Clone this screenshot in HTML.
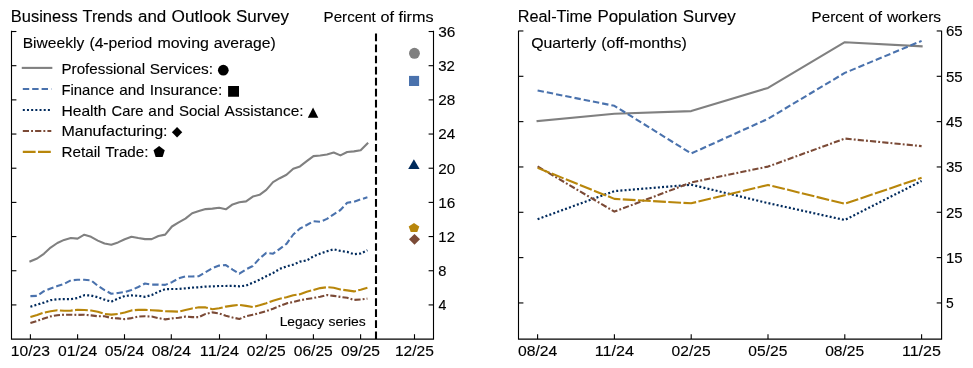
<!DOCTYPE html>
<html><head><meta charset="utf-8"><title>Business Trends and Real-Time Population Survey</title>
<style>html,body{margin:0;padding:0;background:#fff;width:973px;height:368px;overflow:hidden} svg{will-change:transform}</style></head>
<body>
<svg width="973" height="368" viewBox="0 0 973 368" style="display:block" font-family='"Liberation Sans", sans-serif' fill="#000">
<rect width="973" height="368" fill="#fff"/>
<text transform="translate(10.75,21.70) scale(1.0317,1)" font-size="16.0" stroke="#000" stroke-width="0.12">Business</text>
<text transform="translate(82.57,21.70) scale(1.0163,1)" font-size="16.0" stroke="#000" stroke-width="0.12">Trends</text>
<text transform="translate(137.97,21.70) scale(1.0582,1)" font-size="16.0" stroke="#000" stroke-width="0.12">and</text>
<text transform="translate(171.57,21.70) scale(1.0778,1)" font-size="16.0" stroke="#000" stroke-width="0.12">Outlook</text>
<text transform="translate(236.04,21.70) scale(1.0625,1)" font-size="16.0" stroke="#000" stroke-width="0.12">Survey</text>
<text transform="translate(323.56,21.65) scale(1.0428,1)" font-size="14.55" stroke="#000" stroke-width="0.12">Percent</text>
<text transform="translate(380.60,21.65) scale(1.1156,1)" font-size="14.55" stroke="#000" stroke-width="0.12">of</text>
<text transform="translate(398.54,21.65) scale(1.1116,1)" font-size="14.55" stroke="#000" stroke-width="0.12">firms</text>
<text transform="translate(517.77,21.80) scale(1.0164,1)" font-size="16.0" stroke="#000" stroke-width="0.12">Real-Time</text>
<text transform="translate(597.40,21.80) scale(1.0594,1)" font-size="16.0" stroke="#000" stroke-width="0.12">Population</text>
<text transform="translate(682.83,21.80) scale(1.0647,1)" font-size="16.0" stroke="#000" stroke-width="0.12">Survey</text>
<text transform="translate(811.61,21.70) scale(1.0421,1)" font-size="14.55" stroke="#000" stroke-width="0.12">Percent</text>
<text transform="translate(868.61,21.70) scale(1.1149,1)" font-size="14.55" stroke="#000" stroke-width="0.12">of</text>
<text transform="translate(886.93,21.70) scale(1.0635,1)" font-size="14.55" stroke="#000" stroke-width="0.12">workers</text>
<text transform="translate(22.73,47.80) scale(1.0708,1)" font-size="14.55" stroke="#000" stroke-width="0.12">Biweekly</text>
<text transform="translate(89.41,47.80) scale(1.0807,1)" font-size="14.55" stroke="#000" stroke-width="0.12">(4-period</text>
<text transform="translate(157.44,47.80) scale(1.0970,1)" font-size="14.55" stroke="#000" stroke-width="0.12">moving</text>
<text transform="translate(213.75,47.80) scale(1.0803,1)" font-size="14.55" stroke="#000" stroke-width="0.12">average)</text>
<text transform="translate(531.14,47.70) scale(1.0899,1)" font-size="14.55" stroke="#000" stroke-width="0.12">Quarterly</text>
<text transform="translate(601.29,47.70) scale(1.0936,1)" font-size="14.55" stroke="#000" stroke-width="0.12">(off-months)</text>
<text transform="translate(61.46,74.00) scale(1.0450,1)" font-size="14.55" stroke="#000" stroke-width="0.12">Professional</text>
<text transform="translate(149.76,74.00) scale(1.0590,1)" font-size="14.55" stroke="#000" stroke-width="0.12">Services:</text>
<text transform="translate(61.49,94.90) scale(1.0194,1)" font-size="14.55" stroke="#000" stroke-width="0.12">Finance</text>
<text transform="translate(119.16,94.90) scale(1.0542,1)" font-size="14.55" stroke="#000" stroke-width="0.12">and</text>
<text transform="translate(149.68,94.90) scale(1.0689,1)" font-size="14.55" stroke="#000" stroke-width="0.12">Insurance:</text>
<text transform="translate(61.43,115.70) scale(1.0740,1)" font-size="14.55" stroke="#000" stroke-width="0.12">Health</text>
<text transform="translate(111.57,115.70) scale(1.0123,1)" font-size="14.55" stroke="#000" stroke-width="0.12">Care</text>
<text transform="translate(148.37,115.70) scale(1.0550,1)" font-size="14.55" stroke="#000" stroke-width="0.12">and</text>
<text transform="translate(178.91,115.70) scale(1.0311,1)" font-size="14.55" stroke="#000" stroke-width="0.12">Social</text>
<text transform="translate(224.59,115.70) scale(1.0618,1)" font-size="14.55" stroke="#000" stroke-width="0.12">Assistance:</text>
<text transform="translate(61.39,136.40) scale(1.1038,1)" font-size="14.55" stroke="#000" stroke-width="0.12">Manufacturing:</text>
<text transform="translate(61.45,157.10) scale(1.0513,1)" font-size="14.55" stroke="#000" stroke-width="0.12">Retail</text>
<text transform="translate(105.14,157.10) scale(1.0437,1)" font-size="14.55" stroke="#000" stroke-width="0.12">Trade:</text>
<text transform="translate(279.64,325.90) scale(1.0578,1)" font-size="13.05" stroke="#000" stroke-width="0.12">Legacy</text>
<text transform="translate(328.59,325.90) scale(1.0688,1)" font-size="13.05" stroke="#000" stroke-width="0.12">series</text>
<text transform="translate(10.78,356.00) scale(1.0773,1)" font-size="14.55" stroke="#000" stroke-width="0.12">10/23</text>
<text transform="translate(57.94,356.00) scale(1.0814,1)" font-size="14.55" stroke="#000" stroke-width="0.12">01/24</text>
<text transform="translate(104.84,356.00) scale(1.0814,1)" font-size="14.55" stroke="#000" stroke-width="0.12">05/24</text>
<text transform="translate(151.64,356.00) scale(1.0814,1)" font-size="14.55" stroke="#000" stroke-width="0.12">08/24</text>
<text transform="translate(199.84,356.00) scale(1.1123,1)" font-size="14.55" stroke="#000" stroke-width="0.12">11/24</text>
<text transform="translate(246.74,356.00) scale(1.0738,1)" font-size="14.55" stroke="#000" stroke-width="0.12">02/25</text>
<text transform="translate(293.74,356.00) scale(1.0738,1)" font-size="14.55" stroke="#000" stroke-width="0.12">06/25</text>
<text transform="translate(340.94,356.00) scale(1.0738,1)" font-size="14.55" stroke="#000" stroke-width="0.12">09/25</text>
<text transform="translate(394.88,356.00) scale(1.0728,1)" font-size="14.55" stroke="#000" stroke-width="0.12">12/25</text>
<text transform="translate(517.94,356.00) scale(1.0814,1)" font-size="14.55" stroke="#000" stroke-width="0.12">08/24</text>
<text transform="translate(594.74,356.00) scale(1.1123,1)" font-size="14.55" stroke="#000" stroke-width="0.12">11/24</text>
<text transform="translate(671.54,356.00) scale(1.0738,1)" font-size="14.55" stroke="#000" stroke-width="0.12">02/25</text>
<text transform="translate(748.34,356.00) scale(1.0738,1)" font-size="14.55" stroke="#000" stroke-width="0.12">05/25</text>
<text transform="translate(825.14,356.00) scale(1.0738,1)" font-size="14.55" stroke="#000" stroke-width="0.12">08/25</text>
<text transform="translate(901.95,356.00) scale(1.1046,1)" font-size="14.55" stroke="#000" stroke-width="0.12">11/25</text>
<text transform="translate(438.25,36.82) scale(1.0596,1)" font-size="14.55" stroke="#000" stroke-width="0.12">36</text>
<text transform="translate(438.27,70.99) scale(1.0291,1)" font-size="14.55" stroke="#000" stroke-width="0.12">32</text>
<text transform="translate(438.26,105.17) scale(1.0532,1)" font-size="14.55" stroke="#000" stroke-width="0.12">28</text>
<text transform="translate(438.26,139.34) scale(1.0450,1)" font-size="14.55" stroke="#000" stroke-width="0.12">24</text>
<text transform="translate(438.26,173.52) scale(1.0493,1)" font-size="14.55" stroke="#000" stroke-width="0.12">20</text>
<text transform="translate(438.33,207.70) scale(1.0546,1)" font-size="14.55" stroke="#000" stroke-width="0.12">16</text>
<text transform="translate(438.36,241.87) scale(1.0232,1)" font-size="14.55" stroke="#000" stroke-width="0.12">12</text>
<text transform="translate(438.24,276.05) scale(1.0053,1)" font-size="14.55" stroke="#000" stroke-width="0.12">8</text>
<text transform="translate(438.38,310.22) scale(0.9732,1)" font-size="14.55" stroke="#000" stroke-width="0.12">4</text>
<text transform="translate(945.93,36.27) scale(1.0331,1)" font-size="14.55" stroke="#000" stroke-width="0.12">65</text>
<text transform="translate(945.94,81.60) scale(1.0327,1)" font-size="14.55" stroke="#000" stroke-width="0.12">55</text>
<text transform="translate(946.07,126.93) scale(1.0242,1)" font-size="14.55" stroke="#000" stroke-width="0.12">45</text>
<text transform="translate(945.97,172.26) scale(1.0307,1)" font-size="14.55" stroke="#000" stroke-width="0.12">35</text>
<text transform="translate(945.97,217.59) scale(1.0307,1)" font-size="14.55" stroke="#000" stroke-width="0.12">25</text>
<text transform="translate(946.06,262.92) scale(1.0249,1)" font-size="14.55" stroke="#000" stroke-width="0.12">15</text>
<text transform="translate(946.00,308.25) scale(0.9538,1)" font-size="14.55" stroke="#000" stroke-width="0.12">5</text>
<path d="M11.5,31.4 V339.1 H433.5 V31.4" fill="none" stroke="#000" stroke-width="1.11" stroke-linejoin="miter" stroke-linecap="square"/>
<path d="M518.5,31.4 V339.1 H941.6 V31.4" fill="none" stroke="#000" stroke-width="1.11" stroke-linejoin="miter" stroke-linecap="square"/>
<line x1="11.50" y1="31.52" x2="16.40" y2="31.52" stroke="#000" stroke-width="1.11" />
<line x1="428.60" y1="31.52" x2="433.50" y2="31.52" stroke="#000" stroke-width="1.11" />
<line x1="11.50" y1="65.69" x2="16.40" y2="65.69" stroke="#000" stroke-width="1.11" />
<line x1="428.60" y1="65.69" x2="433.50" y2="65.69" stroke="#000" stroke-width="1.11" />
<line x1="11.50" y1="99.87" x2="16.40" y2="99.87" stroke="#000" stroke-width="1.11" />
<line x1="428.60" y1="99.87" x2="433.50" y2="99.87" stroke="#000" stroke-width="1.11" />
<line x1="11.50" y1="134.04" x2="16.40" y2="134.04" stroke="#000" stroke-width="1.11" />
<line x1="428.60" y1="134.04" x2="433.50" y2="134.04" stroke="#000" stroke-width="1.11" />
<line x1="11.50" y1="168.22" x2="16.40" y2="168.22" stroke="#000" stroke-width="1.11" />
<line x1="428.60" y1="168.22" x2="433.50" y2="168.22" stroke="#000" stroke-width="1.11" />
<line x1="11.50" y1="202.40" x2="16.40" y2="202.40" stroke="#000" stroke-width="1.11" />
<line x1="428.60" y1="202.40" x2="433.50" y2="202.40" stroke="#000" stroke-width="1.11" />
<line x1="11.50" y1="236.57" x2="16.40" y2="236.57" stroke="#000" stroke-width="1.11" />
<line x1="428.60" y1="236.57" x2="433.50" y2="236.57" stroke="#000" stroke-width="1.11" />
<line x1="11.50" y1="270.75" x2="16.40" y2="270.75" stroke="#000" stroke-width="1.11" />
<line x1="428.60" y1="270.75" x2="433.50" y2="270.75" stroke="#000" stroke-width="1.11" />
<line x1="11.50" y1="304.92" x2="16.40" y2="304.92" stroke="#000" stroke-width="1.11" />
<line x1="428.60" y1="304.92" x2="433.50" y2="304.92" stroke="#000" stroke-width="1.11" />
<line x1="518.50" y1="30.97" x2="523.40" y2="30.97" stroke="#000" stroke-width="1.11" />
<line x1="936.70" y1="30.97" x2="941.60" y2="30.97" stroke="#000" stroke-width="1.11" />
<line x1="518.50" y1="76.30" x2="523.40" y2="76.30" stroke="#000" stroke-width="1.11" />
<line x1="936.70" y1="76.30" x2="941.60" y2="76.30" stroke="#000" stroke-width="1.11" />
<line x1="518.50" y1="121.63" x2="523.40" y2="121.63" stroke="#000" stroke-width="1.11" />
<line x1="936.70" y1="121.63" x2="941.60" y2="121.63" stroke="#000" stroke-width="1.11" />
<line x1="518.50" y1="166.96" x2="523.40" y2="166.96" stroke="#000" stroke-width="1.11" />
<line x1="936.70" y1="166.96" x2="941.60" y2="166.96" stroke="#000" stroke-width="1.11" />
<line x1="518.50" y1="212.29" x2="523.40" y2="212.29" stroke="#000" stroke-width="1.11" />
<line x1="936.70" y1="212.29" x2="941.60" y2="212.29" stroke="#000" stroke-width="1.11" />
<line x1="518.50" y1="257.62" x2="523.40" y2="257.62" stroke="#000" stroke-width="1.11" />
<line x1="936.70" y1="257.62" x2="941.60" y2="257.62" stroke="#000" stroke-width="1.11" />
<line x1="518.50" y1="302.95" x2="523.40" y2="302.95" stroke="#000" stroke-width="1.11" />
<line x1="936.70" y1="302.95" x2="941.60" y2="302.95" stroke="#000" stroke-width="1.11" />
<line x1="30.40" y1="339.10" x2="30.40" y2="334.20" stroke="#000" stroke-width="1.11" />
<line x1="77.60" y1="339.10" x2="77.60" y2="334.20" stroke="#000" stroke-width="1.11" />
<line x1="124.50" y1="339.10" x2="124.50" y2="334.20" stroke="#000" stroke-width="1.11" />
<line x1="171.30" y1="339.10" x2="171.30" y2="334.20" stroke="#000" stroke-width="1.11" />
<line x1="219.50" y1="339.10" x2="219.50" y2="334.20" stroke="#000" stroke-width="1.11" />
<line x1="266.40" y1="339.10" x2="266.40" y2="334.20" stroke="#000" stroke-width="1.11" />
<line x1="313.40" y1="339.10" x2="313.40" y2="334.20" stroke="#000" stroke-width="1.11" />
<line x1="360.60" y1="339.10" x2="360.60" y2="334.20" stroke="#000" stroke-width="1.11" />
<line x1="414.50" y1="339.10" x2="414.50" y2="334.20" stroke="#000" stroke-width="1.11" />
<line x1="537.60" y1="339.10" x2="537.60" y2="334.20" stroke="#000" stroke-width="1.11" />
<line x1="614.40" y1="339.10" x2="614.40" y2="334.20" stroke="#000" stroke-width="1.11" />
<line x1="691.20" y1="339.10" x2="691.20" y2="334.20" stroke="#000" stroke-width="1.11" />
<line x1="768.00" y1="339.10" x2="768.00" y2="334.20" stroke="#000" stroke-width="1.11" />
<line x1="844.80" y1="339.10" x2="844.80" y2="334.20" stroke="#000" stroke-width="1.11" />
<line x1="921.60" y1="339.10" x2="921.60" y2="334.20" stroke="#000" stroke-width="1.11" />
<line x1="376" y1="339.1" x2="376" y2="31.4" stroke="#000" stroke-width="2.08" stroke-dasharray="7.7 3.33"/>
<polyline points="30.40,261.30 37.14,258.50 43.88,253.80 50.62,247.60 57.36,243.00 64.10,239.90 70.84,238.00 77.58,238.60 84.32,234.70 91.06,236.80 97.80,240.60 104.54,243.50 111.28,244.80 118.02,242.40 124.76,239.20 131.50,236.70 138.24,238.00 144.98,239.10 151.72,239.10 158.46,236.00 165.20,234.60 171.94,226.50 178.68,222.40 185.42,218.60 192.16,213.20 198.90,211.10 205.64,209.10 212.38,208.60 219.12,207.80 225.86,209.30 232.60,204.40 239.34,202.30 246.08,201.40 252.82,196.60 259.56,194.80 266.30,189.90 273.04,182.10 279.78,178.20 286.52,174.80 293.26,168.80 300.00,166.40 306.74,161.20 313.48,156.10 320.22,155.50 326.96,154.50 333.70,152.50 340.44,155.40 347.18,152.00 353.92,151.40 360.66,150.30 367.40,143.40" fill="none" stroke="#808080" stroke-width="2.1" stroke-linejoin="round" stroke-linecap="square"/>
<polyline points="30.40,296.10 37.14,295.90 43.88,291.20 50.62,288.50 57.36,286.10 64.10,283.90 70.84,280.30 77.58,279.80 84.32,279.80 91.06,280.30 97.80,285.80 104.54,290.10 111.28,293.70 118.02,293.00 124.76,292.00 131.50,290.00 138.24,287.00 144.98,283.50 151.72,284.60 158.46,284.60 165.20,284.90 171.94,282.20 178.68,278.40 185.42,276.50 192.16,276.50 198.90,276.10 205.64,272.10 212.38,268.20 219.12,265.60 225.86,265.10 232.60,269.60 239.34,273.70 246.08,269.30 252.82,266.00 259.56,258.50 266.30,252.90 273.04,253.70 279.78,248.80 286.52,243.80 293.26,234.50 300.00,228.50 306.74,225.00 313.48,221.20 320.22,221.80 326.96,218.90 333.70,214.30 340.44,210.00 347.18,202.80 353.92,201.70 360.66,199.40 367.40,197.20" fill="none" stroke="#4a72ad" stroke-width="2.1" stroke-linejoin="round" stroke-linecap="butt" stroke-dasharray="6.4 3.0"/>
<polyline points="30.40,306.70 37.14,304.60 43.88,302.60 50.62,300.20 57.36,299.30 64.10,299.10 70.84,299.10 77.58,298.00 84.32,295.20 91.06,295.50 97.80,297.20 104.54,299.60 111.28,301.70 118.02,298.60 124.76,295.90 131.50,295.40 138.24,295.80 144.98,296.80 151.72,295.10 158.46,291.70 165.20,289.20 171.94,289.00 178.68,289.00 185.42,288.30 192.16,287.60 198.90,287.30 205.64,286.60 212.38,286.40 219.12,286.00 225.86,286.00 232.60,285.80 239.34,286.30 246.08,285.60 252.82,282.70 259.56,279.80 266.30,276.20 273.04,273.00 279.78,268.90 286.52,266.40 293.26,264.60 300.00,261.60 306.74,260.50 313.48,256.30 320.22,253.60 326.96,251.30 333.70,249.30 340.44,250.90 347.18,251.90 353.92,254.20 360.66,253.50 367.40,250.30" fill="none" stroke="#002a5c" stroke-width="2.2" stroke-linejoin="round" stroke-linecap="butt" stroke-dasharray="2.0 2.18"/>
<polyline points="30.40,323.10 37.14,320.90 43.88,318.50 50.62,316.40 57.36,315.20 64.10,314.70 70.84,314.70 77.58,314.90 84.32,314.70 91.06,315.40 97.80,316.20 104.54,316.20 111.28,318.00 118.02,318.40 124.76,319.10 131.50,318.10 138.24,316.60 144.98,316.30 151.72,316.60 158.46,318.10 165.20,319.40 171.94,318.40 178.68,317.80 185.42,316.60 192.16,317.10 198.90,317.10 205.64,313.90 212.38,312.40 219.12,313.40 225.86,315.70 232.60,317.50 239.34,319.00 246.08,316.20 252.82,314.70 259.56,313.10 266.30,311.10 273.04,308.70 279.78,305.90 286.52,303.40 293.26,302.00 300.00,300.30 306.74,299.00 313.48,298.00 320.22,296.70 326.96,295.00 333.70,295.90 340.44,296.90 347.18,297.80 353.92,299.90 360.66,299.50 367.40,298.60" fill="none" stroke="#7b4a36" stroke-width="2.1" stroke-linejoin="round" stroke-linecap="butt" stroke-dasharray="6.2 2.1 1.9 2.1"/>
<polyline points="30.40,317.00 37.14,314.90 43.88,312.60 50.62,311.30 57.36,310.30 64.10,310.80 70.84,310.60 77.58,309.80 84.32,310.00 91.06,310.50 97.80,311.80 104.54,313.90 111.28,314.60 118.02,313.90 124.76,312.50 131.50,310.40 138.24,309.90 144.98,309.90 151.72,310.20 158.46,310.60 165.20,311.20 171.94,311.40 178.68,311.60 185.42,309.90 192.16,308.40 198.90,307.30 205.64,307.40 212.38,309.20 219.12,308.30 225.86,306.60 232.60,305.60 239.34,304.90 246.08,305.90 252.82,307.00 259.56,305.20 266.30,303.20 273.04,300.80 279.78,298.70 286.52,297.20 293.26,295.20 300.00,294.20 306.74,291.70 313.48,290.00 320.22,288.10 326.96,287.20 333.70,287.80 340.44,289.50 347.18,290.40 353.92,291.40 360.66,289.70 367.40,287.80" fill="none" stroke="#b8860b" stroke-width="2.1" stroke-linejoin="round" stroke-linecap="butt" stroke-dasharray="12.8 2.4"/>
<polyline points="537.60,121.00 614.40,113.70 691.20,111.10 768.00,87.90 844.80,42.20 921.60,46.30" fill="none" stroke="#808080" stroke-width="2.1" stroke-linejoin="round" stroke-linecap="square"/>
<polyline points="537.60,90.50 614.40,105.80 691.20,153.50 768.00,118.80 844.80,72.90 921.60,40.90" fill="none" stroke="#4a72ad" stroke-width="2.1" stroke-linejoin="round" stroke-linecap="butt" stroke-dasharray="6.4 3.0"/>
<polyline points="537.60,219.20 614.40,191.10 691.20,184.70 768.00,203.10 844.80,220.00 921.60,181.00" fill="none" stroke="#002a5c" stroke-width="2.2" stroke-linejoin="round" stroke-linecap="butt" stroke-dasharray="2.0 2.18"/>
<polyline points="537.60,166.40 614.40,211.60 691.20,182.50 768.00,166.60 844.80,138.60 921.60,146.10" fill="none" stroke="#7b4a36" stroke-width="2.1" stroke-linejoin="round" stroke-linecap="butt" stroke-dasharray="6.2 2.1 1.9 2.1"/>
<polyline points="537.60,167.90 614.40,198.90 691.20,203.30 768.00,184.90 844.80,203.80 921.60,177.70" fill="none" stroke="#b8860b" stroke-width="2.1" stroke-linejoin="round" stroke-linecap="butt" stroke-dasharray="12.8 2.4"/>
<polyline points="22.80,67.90 51.30,67.90" fill="none" stroke="#808080" stroke-width="2.1" stroke-linejoin="round" stroke-linecap="square"/>
<polyline points="22.80,89.00 51.30,89.00" fill="none" stroke="#4a72ad" stroke-width="2.1" stroke-linejoin="round" stroke-linecap="butt" stroke-dasharray="6.4 3.0"/>
<polyline points="22.80,110.00 51.30,110.00" fill="none" stroke="#002a5c" stroke-width="2.2" stroke-linejoin="round" stroke-linecap="butt" stroke-dasharray="2.0 2.18"/>
<polyline points="22.80,131.00 51.30,131.00" fill="none" stroke="#7b4a36" stroke-width="2.1" stroke-linejoin="round" stroke-linecap="butt" stroke-dasharray="6.2 2.1 1.9 2.1"/>
<polyline points="22.80,151.90 51.30,151.90" fill="none" stroke="#b8860b" stroke-width="2.1" stroke-linejoin="round" stroke-linecap="butt" stroke-dasharray="12.8 2.4"/>
<circle cx="223.3" cy="70.2" r="5.35" fill="#000"/>
<rect x="228.1" y="86.0" width="10.90" height="10.75" fill="#000"/>
<polygon points="313.05,107.5 318.3,117.7 307.8,117.7" fill="#000"/>
<polygon points="177.07,127.0 182.25,132.30 177.07,137.6 171.9,132.30" fill="#000"/>
<polygon points="159.12,146.10 164.75,150.26 162.60,157.00 155.65,157.00 153.50,150.26" fill="#000"/>
<circle cx="414.45" cy="53.3" r="5.45" fill="#808080"/>
<rect x="409.0" y="75.9" width="10.10" height="10.10" fill="#4a72ad"/>
<polygon points="413.90,159.2 419.6,168.9 408.2,168.9" fill="#002a5c"/>
<polygon points="414.00,223.00 419.30,226.40 417.28,231.90 410.72,231.90 408.70,226.40" fill="#b8860b"/>
<polygon points="414.50,233.9 420.0,239.35 414.50,244.8 409.0,239.35" fill="#7b4a36"/>
</svg>
</body></html>
